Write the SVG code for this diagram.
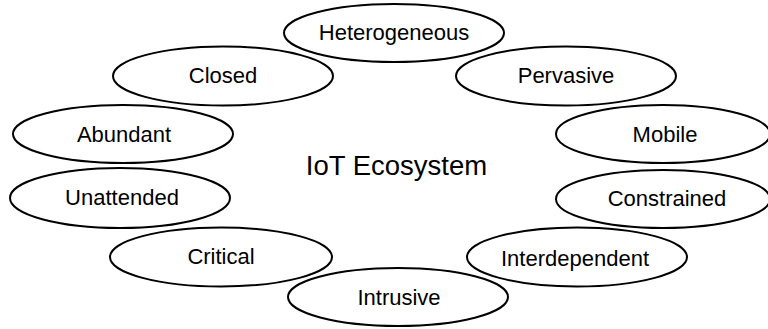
<svg xmlns="http://www.w3.org/2000/svg" width="768" height="329" viewBox="0 0 768 329">
<style>
.n ellipse{fill:#fff;stroke:#000;stroke-width:2}
.n text{font-family:"Liberation Sans",Arial,sans-serif;font-size:22px;fill:#000;text-anchor:middle}
.t{font-family:"Liberation Sans",Arial,sans-serif;font-size:27.5px;fill:#000;text-anchor:middle}
</style>
<rect width="768" height="329" fill="#fff"/>
<g id="connectors"></g>
<g id="heterogeneous" class="n"><ellipse cx="394" cy="33" rx="110" ry="29"/><text x="394" y="40">Heterogeneous</text></g>
<g id="closed" class="n"><ellipse cx="223" cy="76" rx="110" ry="29.5"/><text x="223" y="83">Closed</text></g>
<g id="pervasive" class="n"><ellipse cx="566" cy="76" rx="110" ry="29.5"/><text x="566" y="83">Pervasive</text></g>
<g id="abundant" class="n"><ellipse cx="123" cy="134" rx="110" ry="29"/><text x="124" y="142">Abundant</text></g>
<g id="mobile" class="n"><ellipse cx="663" cy="134" rx="107" ry="29"/><text x="665" y="142">Mobile</text></g>
<g id="unattended" class="n"><ellipse cx="120" cy="198" rx="110" ry="30"/><text x="122" y="205">Unattended</text></g>
<g id="constrained" class="n"><ellipse cx="663" cy="199" rx="107" ry="29"/><text x="667" y="206">Constrained</text></g>
<g id="critical" class="n"><ellipse cx="221" cy="257" rx="111" ry="29.5"/><text x="221" y="264">Critical</text></g>
<g id="interdependent" class="n"><ellipse cx="577" cy="257" rx="110" ry="29.5"/><text x="575" y="266">Interdependent</text></g>
<g id="intrusive" class="n"><ellipse cx="398" cy="297" rx="110" ry="29"/><text x="399" y="305">Intrusive</text></g>
<g id="title"><text class="t" x="396.5" y="175">IoT Ecosystem</text></g>
</svg>
